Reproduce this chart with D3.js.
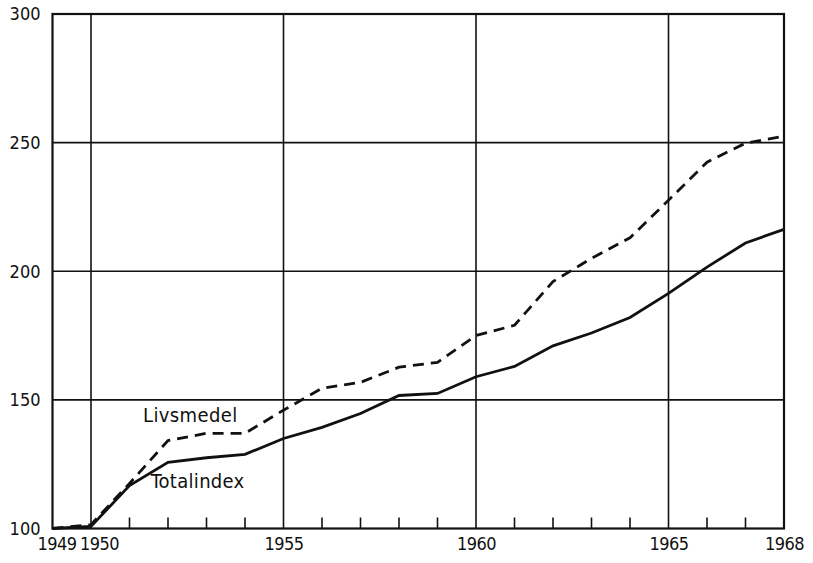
<!DOCTYPE html>
<html><head><meta charset="utf-8">
<script src="https://cdn.jsdelivr.net/npm/d3@7"></script>
<style>
body{margin:0;background:#fff;}
text{font-family:"DejaVu Sans Condensed","DejaVu Sans",sans-serif;font-stretch:condensed;fill:#111;}
</style></head><body>
<svg id="c" width="813" height="563"></svg>
<script>
const years = [1949,1950,1951,1952,1953,1954,1955,1956,1957,1958,1959,1960,1961,1962,1963,1964,1965,1966,1967,1968];
const totalindex = [100,100.8,116.7,125.7,127.5,128.8,135,139.3,144.7,151.7,152.5,159,163,171,176,182,191.4,201.6,211,216.3];
const livsmedel  = [100,101.5,117.5,134.2,137,137,146,154.5,156.8,162.7,164.6,175,179,196,205,213,227.6,242.4,249.8,252.5];
const xTickLabels = [1949,1950,1955,1960,1965,1968];
const yTicks = [100,150,200,250,300];
const xGrid = [1950,1955,1960,1965];
const yGrid = [150,200,250];
const seriesNames = ["Livsmedel","Totalindex"];

const svg = d3.select("#c");
const x = d3.scaleLinear().domain([1949,1968]).range([52.5,784]);
const y = d3.scaleLinear().domain([100,300]).range([528.5,14]);

// grid
svg.append("g").selectAll("line").data(yGrid).join("line")
  .attr("x1",x(1949)).attr("x2",x(1968)).attr("y1",d=>y(d)).attr("y2",d=>y(d))
  .attr("stroke","#111").attr("stroke-width",1.6);
svg.append("g").selectAll("line").data(xGrid).join("line")
  .attr("x1",d=>x(d)).attr("x2",d=>x(d)).attr("y1",y(100)).attr("y2",y(300))
  .attr("stroke","#111").attr("stroke-width",1.6);
// minor year ticks
svg.append("g").selectAll("line").data(years.filter(d=>!xGrid.includes(d)&&d!==1949&&d!==1968)).join("line")
  .attr("x1",d=>x(d)).attr("x2",d=>x(d)).attr("y1",y(100)).attr("y2",y(100)-11)
  .attr("stroke","#111").attr("stroke-width",1.6);
// frame
svg.append("rect").attr("x",x(1949)).attr("y",y(300)).attr("width",x(1968)-x(1949)).attr("height",y(100)-y(300))
  .attr("fill","none").attr("stroke","#111").attr("stroke-width",2.2);

// axes labels
const xa = d3.axisBottom(x).tickValues(xTickLabels).tickFormat(d3.format("d")).tickSize(0).tickPadding(9);
const gx = svg.append("g").attr("transform",`translate(0,${y(100)})`).call(xa);
gx.select(".domain").remove();
gx.selectAll("text").style("font-size","18px").style("letter-spacing","-0.5px")
  .attr("dx",d=>d===1949?4:(d===1950?8:0));
const ya = d3.axisLeft(y).tickValues(yTicks).tickFormat(d3.format("d")).tickSize(0).tickPadding(12);
const gy = svg.append("g").attr("transform",`translate(${x(1949)},0)`).call(ya);
gy.select(".domain").remove();
gy.selectAll("text").style("font-size","18px");

// lines
const line = d3.line().x((d,i)=>x(years[i])).y(d=>y(d));
svg.append("path").datum(livsmedel).attr("d",line).attr("fill","none")
  .attr("stroke","#111").attr("stroke-width",2.8).attr("stroke-dasharray","11,7");
svg.append("path").datum(totalindex).attr("d",line).attr("fill","none")
  .attr("stroke","#111").attr("stroke-width",2.8);

// series labels
svg.append("text").attr("x",x(1951.35)).attr("y",y(150)+22).style("font-size","20px").style("letter-spacing","0.4px").text(seriesNames[0]);
svg.append("text").attr("x",x(1951.55)).attr("y",y(150)+88).style("font-size","20px").style("letter-spacing","0.3px").text(seriesNames[1]);
</script></body></html>
